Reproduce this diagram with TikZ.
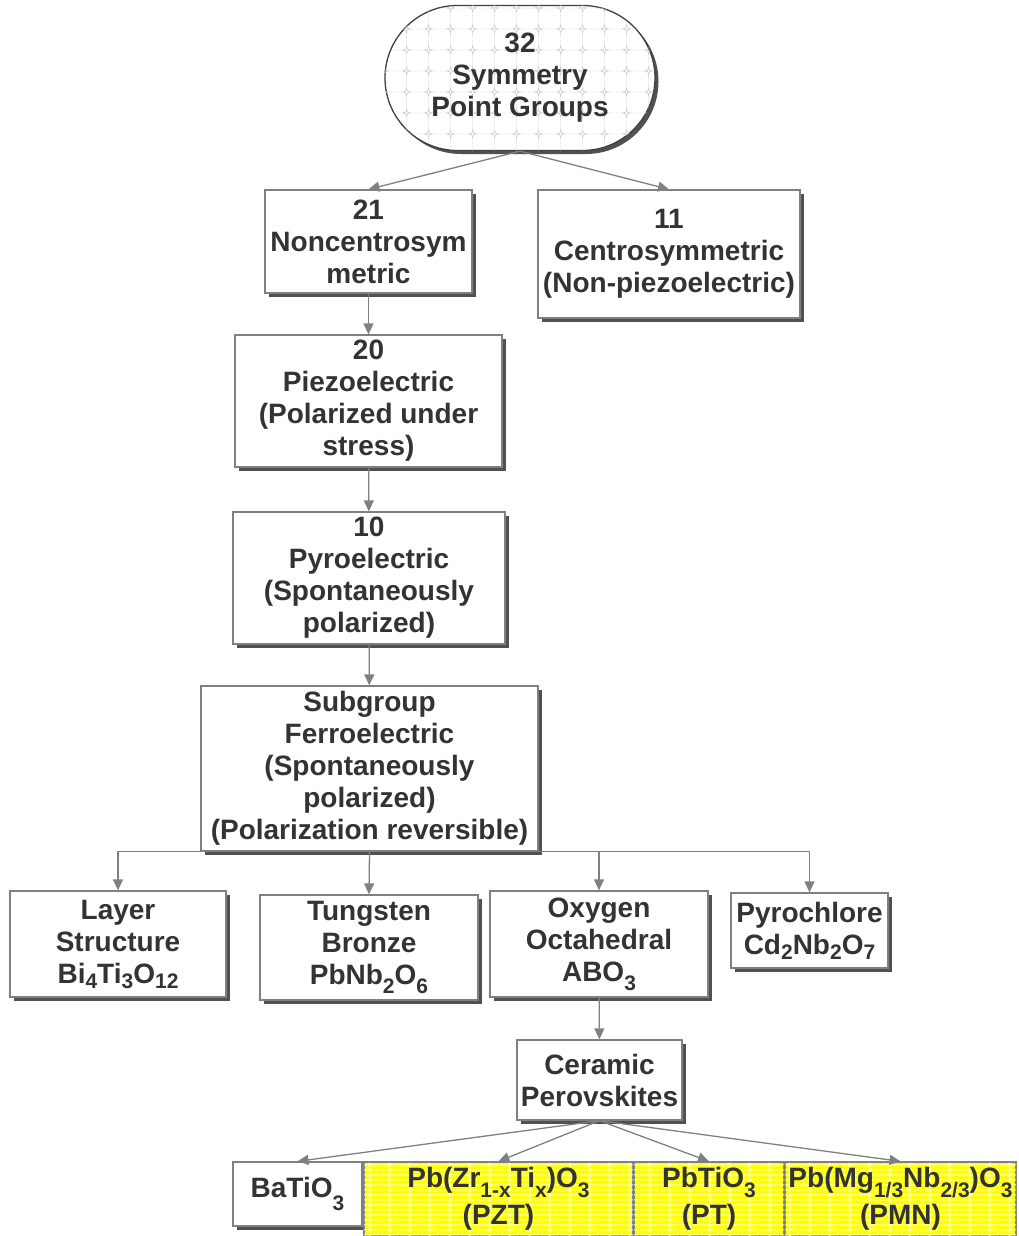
\documentclass[tikz,border=0pt]{standalone}
\usepackage{fontspec}
\setmainfont{Liberation Sans}
\usepackage{xcolor}
\definecolor{txtgray}{HTML}{333333}
\definecolor{edgegray}{HTML}{808080}
\definecolor{hiyellow}{HTML}{FFFF00}
\usepackage{tikz}
\usetikzlibrary{arrows.meta}
\usetikzlibrary{shadows}
\usetikzlibrary{shapes.misc}
\usetikzlibrary{patterns.meta}

\tikzdeclarepattern{
  name=sparkles,
  type=uncolored,
  bottom left={(0pt,0pt)},
  top right={(22pt,21pt)},
  tile size={(22pt,21pt)},
  code={
    \draw[line width=0.3pt] (0pt,10.5pt) -- (7pt,10.5pt) (15pt,10.5pt) -- (22pt,10.5pt);
    \draw[line width=0.3pt] (11pt,0pt) -- (11pt,6.5pt) (11pt,14.5pt) -- (11pt,21pt);
    \draw[line width=0.6pt] (11pt,14.5pt) -- (11.9pt,11.4pt) -- (15pt,10.5pt) -- (11.9pt,9.6pt)
      -- (11pt,6.5pt) -- (10.1pt,9.6pt) -- (7pt,10.5pt) -- (10.1pt,11.4pt) -- cycle;
  }
}
\tikzdeclarepattern{
  name=weave,
  type=uncolored,
  bottom left={(0pt,0pt)},
  top right={(20pt,5pt)},
  tile size={(20pt,5pt)},
  code={
    \draw[line width=1.2pt] (0pt,2.5pt) -- (20pt,2.5pt);
    \draw[line width=2pt] (10pt,0pt) -- (10pt,5pt);
  }
}

\newcommand{\chemsub}[2][9pt]{\raisebox{-#1}{\fontsize{21}{21}\selectfont #2}}

\begin{document}
\begin{tikzpicture}[x=1pt,y=-1pt,
  font=\fontsize{28}{32}\selectfont\bfseries, text=txtgray,
  box/.style={draw=edgegray,line width=1.3pt,fill=white,align=center,inner sep=0pt,
    drop shadow={shadow xshift=3.5pt,shadow yshift=-3.5pt,fill=black!80,opacity=0.85}},
  oval/.style={rounded rectangle,draw=black!75,line width=1.3pt,fill=white,align=center,inner sep=0pt,
    minimum width=270pt,minimum height=145pt,
    postaction={pattern=sparkles,pattern color=black!20},
    drop shadow={shadow xshift=3.5pt,shadow yshift=-3.5pt,fill=black!80,opacity=0.85}},
  yelbox/.style={draw=edgegray,line width=1.3pt,fill=hiyellow,align=center,inner sep=0pt,
    minimum height=74pt,postaction={pattern=weave,pattern color=yellow!25}},
  arr/.style={draw=edgegray,line width=1.3pt,-{Triangle[length=11pt,width=10pt]}}]
  \useasboundingbox (0,0) rectangle (1018,1236);

  % top of the tree
  \node[oval] (sym32) at (520,78) {32\\Symmetry\\Point Groups};
  \node[box,minimum width=207pt,minimum height=103pt] (non21) at (368.5,241.5) {21\\Noncentrosym\\metric};
  \node[box,minimum width=262pt,minimum height=128pt] (centro11) at (669,254) {11\\Centrosymmetric\\(Non-piezoelectric)};
  \node[box,minimum width=267pt,minimum height=132pt] (piezo20) at (368.5,401) {20\\Piezoelectric\\(Polarized under\\stress)};
  \node[box,minimum width=272pt,minimum height=132pt] (pyro10) at (369,578) {10\\Pyroelectric\\(Spontaneously\\polarized)};
  \node[box,minimum width=337pt,minimum height=165pt] (ferro) at (369.5,768.5) {Subgroup\\Ferroelectric\\(Spontaneously\\polarized)\\(Polarization reversible)};

  % structure families
  \node[box,minimum width=216pt,minimum height=106pt] (layer) at (118,944) {Layer\\Structure\\Bi\chemsub[5pt]{4}Ti\chemsub[5pt]{3}O\chemsub[5pt]{12}};
  \node[box,minimum width=218pt,minimum height=105pt] (tungsten) at (369,947.5) {Tungsten\\Bronze\\PbNb\chemsub{2}O\chemsub{6}};
  \node[box,minimum width=218pt,minimum height=106pt] (oxygen) at (599,944) {Oxygen\\Octahedral\\ABO\chemsub{3}};
  \node[box,minimum width=157pt,minimum height=75pt] (pyrochl) at (809.5,930.5) {Pyrochlore\\Cd\chemsub[5pt]{2}Nb\chemsub[5pt]{2}O\chemsub[5pt]{7}};
  \node[box,minimum width=165pt,minimum height=80pt] (ceramic) at (599.5,1080) {Ceramic\\Perovskites};

  % perovskites
  \node[box,minimum width=129pt,minimum height=64pt] (batio) at (297.5,1194) {BaTiO\chemsub[13pt]{3}};
  \node[yelbox,minimum width=269pt] (pzt) at (498.5,1199) {Pb(Zr\chemsub[10pt]{1-x}Ti\chemsub[10pt]{x})O\chemsub[10pt]{3}\\[5pt](PZT)};
  \node[yelbox,minimum width=150pt] (pt) at (709,1199) {PbTiO\chemsub[10pt]{3}\\[5pt](PT)};
  \node[yelbox,minimum width=231pt] (pmn) at (900.5,1199) {Pb(Mg\chemsub[10pt]{1/3}Nb\chemsub[10pt]{2/3})O\chemsub[10pt]{3}\\[5pt](PMN)};

  \draw[arr] (sym32.south) -- (non21.north);
  \draw[arr] (sym32.south) -- (centro11.north);
  \draw[arr] (non21) -- (piezo20);
  \draw[arr] (piezo20) -- (pyro10);
  \draw[arr] (pyro10) -- (ferro);
  \draw[arr] (ferro.south) -| (layer.north);
  \draw[arr] (ferro.south) -- (tungsten.north);
  \draw[arr] (ferro.south) -| (oxygen.north);
  \draw[arr] (ferro.south) -| (pyrochl.north);
  \draw[arr] (oxygen) -- (ceramic);
  \draw[arr] (ceramic.south) -- (batio.north);
  \draw[arr] (ceramic.south) -- (pzt.north);
  \draw[arr] (ceramic.south) -- (pt.north);
  \draw[arr] (ceramic.south) -- (pmn.north);
\end{tikzpicture}
\end{document}
